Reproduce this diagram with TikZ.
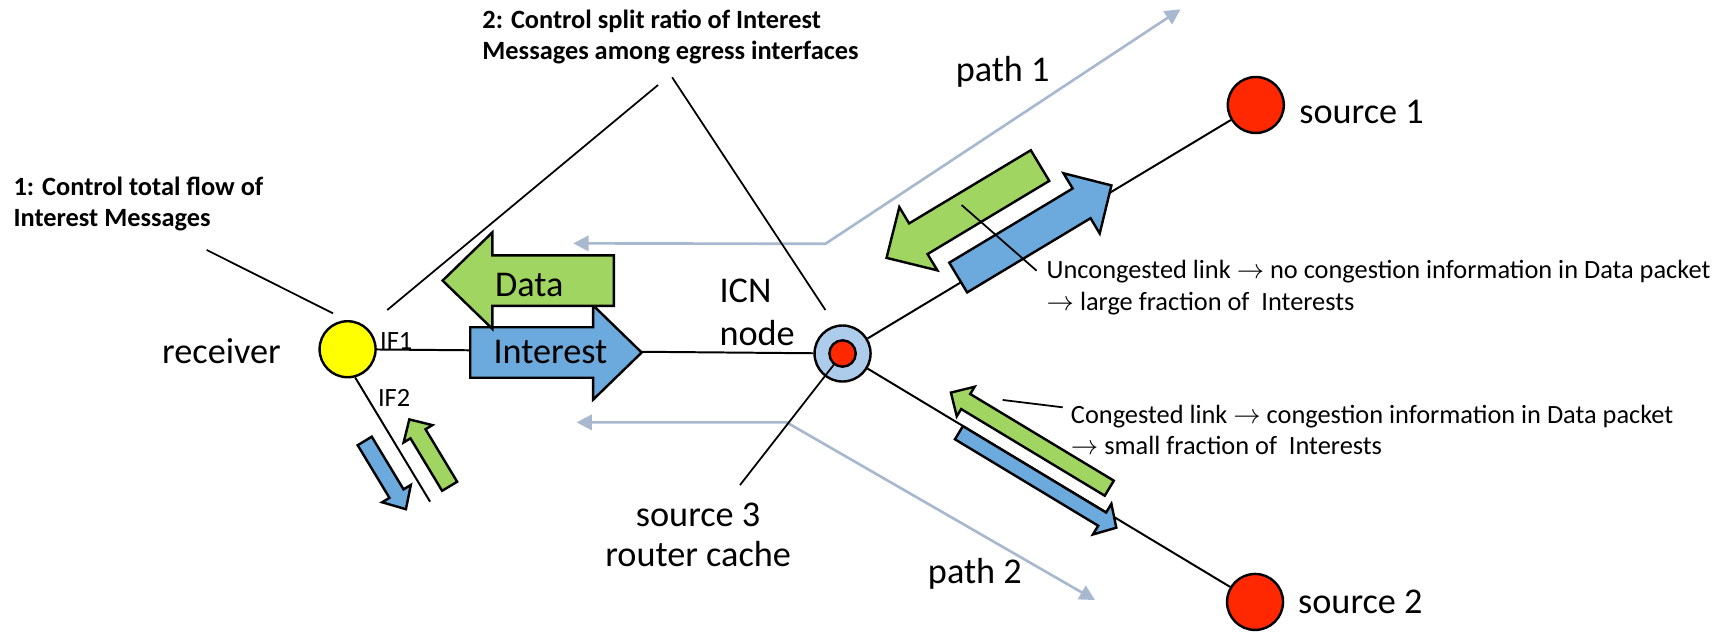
\documentclass[tikz,border=0pt]{standalone}
\usepackage{fontspec}
\setmainfont{Carlito}
\usetikzlibrary{arrows.meta}
\definecolor{cblue}{RGB}{108,169,220}
\definecolor{cgreen}{RGB}{161,213,97}
\definecolor{cgrey}{RGB}{168,184,206}
\definecolor{cicn}{RGB}{173,203,234}
\definecolor{cred}{RGB}{255,40,0}
\definecolor{cyellow}{RGB}{255,255,0}
\newcommand{\myarrow}{\ensuremath{\rightarrow}}
% #1 style, #2 tail x, #3 head base x, #4 tip x, #5 centre y, #6 body half width, #7 head half width
\newcommand{\blkarrow}[7]{\filldraw[#1] (#2,#5-#6) -- (#3,#5-#6) -- (#3,#5-#7) -- (#4,#5) -- (#3,#5+#7) -- (#3,#5+#6) -- (#2,#5+#6) -- cycle;}
\tikzset{
  blk/.style={draw=black, line width=2.2pt, line join=miter},
  bluearr/.style={blk, fill=cblue},
  greenarr/.style={blk, fill=cgreen},
  link/.style={draw=black, line width=1.8pt},
  ptr/.style={draw=black, line width=1.6pt},
  greyarr/.style={draw=cgrey, line width=2.4pt, {Triangle[length=14pt,width=14pt]}-{Triangle[length=14pt,width=14pt]}},
  big/.style={font=\fontsize{33}{39}\selectfont, inner sep=0pt},
  small/.style={font=\fontsize{24}{29}\selectfont, inner sep=0pt},
  boldtxt/.style={font=\bfseries\fontsize{24}{29}\selectfont, inner sep=0pt},
  disc/.style={circle, draw=black, line width=2.2pt, inner sep=0pt},
}
\begin{document}
\begin{tikzpicture}[x=1pt,y=1pt]
\useasboundingbox (0,0) rectangle (1568,575.5);

% grey path arrows
\coordinate (g1a) at (522,353.9);
\coordinate (g1b) at (751.6,353.5);
\coordinate (g1c) at (1074.9,567);
\draw[greyarr] (g1a) -- (g1b) -- (g1c);
\coordinate (g2a) at (525,190.9);
\coordinate (g2b) at (716.3,190.9);
\coordinate (g2c) at (997.1,29.1);
\draw[greyarr] (g2a) -- (g2b) -- (g2c);

% network nodes
\node[disc, fill=cyellow, minimum size=51pt] (rec) at (316.5,257.5) {};
\node[disc, fill=cicn, minimum size=51pt] (icn) at (767.2,253.6) {};
\node[disc, fill=cred, minimum size=51pt] (s1) at (1143.5,479.9) {};
\node[disc, fill=cred, minimum size=51pt] (s2) at (1142.8,27.4) {};

% links
\draw[link] (rec) -- (icn);
\draw[link] (icn) -- (s1);
\draw[link] (icn) -- (s2);
\coordinate (if2e) at (391.6,118.7);
\draw[link] (rec.-75) -- (if2e);

% pointers
\coordinate (p1a) at (188.2,347.9);
\coordinate (p1b) at (303.2,290.2);
\draw[ptr] (p1a) -- (p1b);
\coordinate (p2la) at (599.2,498.1);
\coordinate (p2lb) at (352.6,293.2);
\draw[ptr] (p2la) -- (p2lb);
\coordinate (p2ra) at (612,505.1);
\coordinate (p2rb) at (751.6,293.2);
\draw[ptr] (p2ra) -- (p2rb);
\coordinate (pca) at (913,211.3);
\coordinate (pcb) at (967.7,204.6);
\draw[ptr] (pca) -- (pcb);
\coordinate (s3p) at (673.8,133.8);
\draw[ptr] (icn.center) -- (s3p);
\node[disc, fill=cred, minimum size=24pt] (icnin) at (icn.center) {};

% Interest / Data arrows
\blkarrow{bluearr}{428.2}{540}{584.3}{254.5}{23}{43}
\blkarrow{greenarr}{559}{448.4}{403}{320}{23}{44}

% upper link arrows
\begin{scope}[shift={(icn.center)}, rotate=31.02]
\blkarrow{bluearr}{125.9}{257}{288.7}{5}{15.8}{32}
\blkarrow{greenarr}{242.3}{113}{79.2}{54}{16.3}{33.6}
\end{scope}
% lower link arrows
\begin{scope}[shift={(icn.center)}, rotate=-31.11]
\blkarrow{bluearr}{128}{280.3}{295.4}{-7}{7}{16.3}
\blkarrow{greenarr}{271.3}{118.6}{102.9}{20.5}{8}{15.75}
\end{scope}
% IF2 arrows
\begin{scope}[shift={(rec.-75)}, rotate=-58.9]
\blkarrow{bluearr}{54}{110}{126.6}{-22.4}{7.5}{15.3}
\blkarrow{greenarr}{129.3}{73.5}{58.2}{22.5}{8}{15.3}
\end{scope}

\coordinate (pua) at (875.6,388.8);
\coordinate (pub) at (943.9,329);
\draw[ptr] (pua) -- (pub);

% texts
\node[boldtxt, anchor=base west] (b2a) at (439.1,549.7) {2: Control split ratio of Interest};
\node[boldtxt, anchor=base west] (b2b) at (439.1,520.9) {Messages among egress interfaces};
\node[boldtxt, anchor=base west] (b1a) at (12.2,397.9) {1: Control total flow of};
\node[boldtxt, anchor=base west] (b1b) at (12.2,369.1) {Interest Messages};
\node[small, anchor=base west] (ua) at (952.9,322.1) {Uncongested link \myarrow{} no congestion information in Data packet};
\node[small, anchor=base west] (ub) at (952.9,293.2) {\myarrow{} large fraction of\ \ Interests};
\node[small, anchor=base west] (ca) at (975,190) {Congested link \myarrow{} congestion information in Data packet};
\node[small, anchor=base west] (cb) at (975,161.2) {\myarrow{} small fraction of\ \ Interests};
\node[big, anchor=base] (tp1) at (913,501.1) {path 1};
\node[big, anchor=base] (tp2) at (887.7,44.5) {path 2};
\node[big, anchor=base west] (ts1) at (1183,463.2) {source 1};
\node[big, anchor=base west] (ts2) at (1181.9,17) {source 2};
\node[big, anchor=base west] (trec) at (147.5,244.3) {receiver};
\node[big, anchor=base west] (ticn) at (655,299.9) {ICN};
\node[big, anchor=base west] (tnode) at (655,261.3) {node};
\node[big, anchor=base] (tdata) at (482,305.3) {Data};
\node[big, anchor=base] (tint) at (501.2,244.6) {Interest};
\node[small, anchor=base west] (tif1) at (346,256.8) {IF1};
\node[small, anchor=base west] (tif2) at (344,204.9) {IF2};
\node[big, anchor=base] (ts3a) at (635.7,95.9) {source 3};
\node[big, anchor=base] (ts3b) at (635.7,59.5) {router cache};
\end{tikzpicture}
\end{document}
